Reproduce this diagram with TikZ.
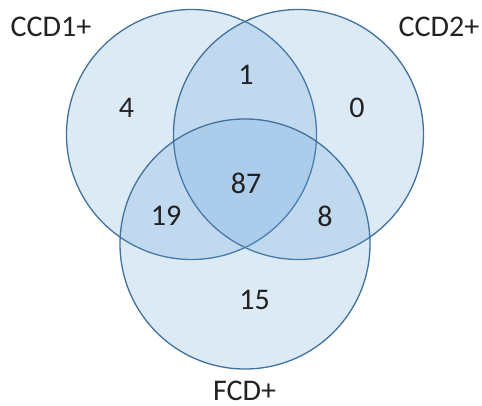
\documentclass[tikz,border=0pt]{standalone}
\usepackage{fontspec}
\setmainfont{Carlito}
\definecolor{setfill}{HTML}{5B9BD5}
\definecolor{setline}{HTML}{41719C}
\definecolor{txt}{HTML}{222222}
\begin{document}
\begin{tikzpicture}[x=1pt,y=-1pt,
  setcircle/.style={circle,draw=setline,line width=1.3pt,fill=setfill,fill opacity=0.21,
    minimum size=250pt,inner sep=0pt},
  lbl/.style={text=txt,font=\fontsize{30}{34}\selectfont,inner sep=0pt,anchor=center}]
\useasboundingbox (0,0) rectangle (482,406);
\node[setcircle] (ccd1) at (191.5,134.5) {};
\node[setcircle] (ccd2) at (298.5,134.5) {};
\node[setcircle] (fcd) at (245,244) {};
\node[lbl] (t1) at (51,27) {CCD1+};
\node[lbl] (t2) at (439,27) {CCD2+};
\node[lbl] (t3) at (244.5,391) {FCD+};
\node[lbl] (n4) at (126.5,107.5) {4};
\node[lbl] (n1) at (246,75) {1};
\node[lbl] (n0) at (357,107.5) {0};
\node[lbl] (n87) at (246,183) {87};
\node[lbl] (n19) at (166,216) {19};
\node[lbl] (n8) at (325,216) {8};
\node[lbl] (n15) at (254.5,300) {15};
\end{tikzpicture}
\end{document}
